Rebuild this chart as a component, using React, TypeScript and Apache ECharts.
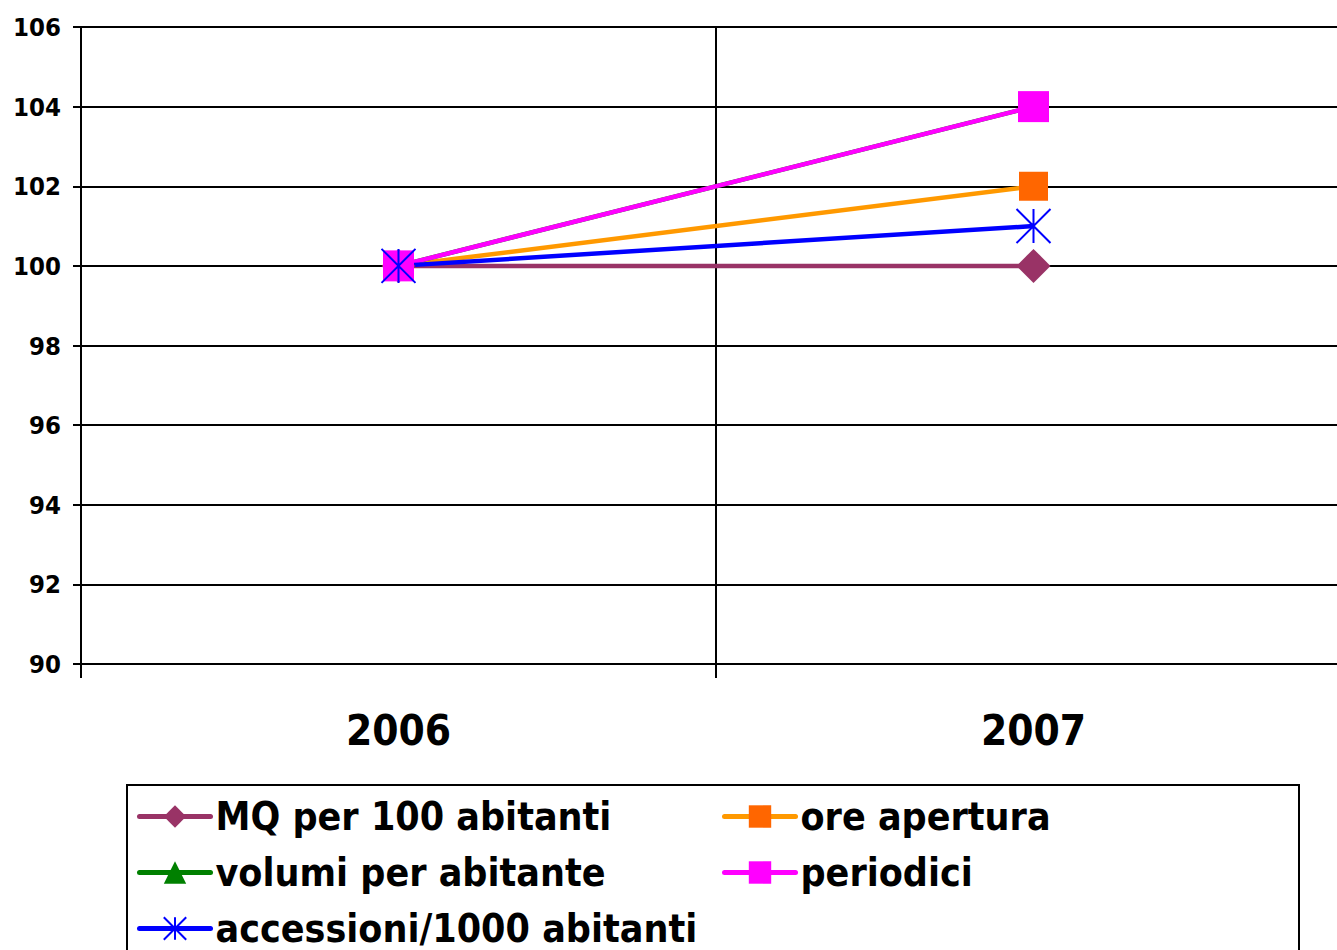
import React, { useEffect, useRef } from "react";
import * as echarts from "echarts";

const categories = ["2006", "2007"];
const yTicks = { min: 90, max: 106, interval: 2 };

const seriesNames = [
  "MQ per 100 abitanti",
  "ore apertura",
  "volumi per abitante",
  "periodici",
  "accessioni/1000 abitanti",
];
const mqValues = [100, 100];
const oreValues = [100, 102];
const volumiValues = [100, 104];
const periodiciValues = [100, 104];
const accessioniValues = [100, 101];

const legendLeftCol = ["MQ per 100 abitanti", "volumi per abitante", "accessioni/1000 abitanti"];
const legendRightCol = ["ore apertura", "periodici"];

const FONT = "'DejaVu Sans Condensed', 'DejaVu Sans', sans-serif";
const ASTERISK = "path://M0,0L20,20M20,0L0,20M10,0L10,20";

export default function App() {
  const ref = useRef<HTMLDivElement>(null);
  useEffect(() => {
    if (!ref.current) return;
    const chart = echarts.init(ref.current, undefined, { renderer: "svg" });
    const mkSeries = (
      name: string,
      data: number[],
      lineColor: string,
      markColor: string,
      symbol: string,
      size: number,
      extraItem: any = {}
    ) => ({
      name,
      type: "line",
      data,
      symbol,
      symbolSize: size,
      showAllSymbol: true,
      silent: true,
      lineStyle: { color: lineColor, width: 4.5 },
      itemStyle: { color: markColor, opacity: 1, ...extraItem },
      emphasis: { disabled: true },
    });
    const legendCommon = {
      orient: "vertical",
      padding: 0,
      itemWidth: 71,
      itemHeight: 28,
      itemGap: 17,
      selectedMode: false,
      lineStyle: { width: 5, cap: "round" },
      textStyle: {
        fontFamily: FONT,
        fontWeight: "bold",
        fontSize: 39,
        lineHeight: 39,
        color: "#000",
      },
    };
    chart.setOption({
      animation: false,
      backgroundColor: "#fff",
      grid: { left: 81, top: 27, width: 1270, height: 637 },
      xAxis: {
        type: "category",
        data: categories,
        boundaryGap: true,
        axisLine: { show: true, lineStyle: { color: "#000", width: 2 } },
        axisTick: { show: true, length: 14, interval: 0, lineStyle: { color: "#000", width: 2 } },
        splitLine: { show: true, interval: 0, lineStyle: { color: "#000", width: 2 } },
        axisLabel: {
          margin: 45,
          fontFamily: FONT,
          fontWeight: "bold",
          fontSize: 42,
          color: "#000",
        },
      },
      yAxis: {
        type: "value",
        min: yTicks.min,
        max: yTicks.max,
        interval: yTicks.interval,
        axisLine: { show: true, lineStyle: { color: "#000", width: 2 } },
        axisTick: { show: true, length: 8, lineStyle: { color: "#000", width: 2 } },
        splitLine: { show: true, lineStyle: { color: "#000", width: 2 } },
        axisLabel: {
          margin: 20,
          fontFamily: FONT,
          fontWeight: "bold",
          fontSize: 25.5,
          color: "#000",
        },
      },
      legend: [
        { ...legendCommon, data: legendLeftCol, left: 137, top: 797 },
        { ...legendCommon, data: legendRightCol, left: 722, top: 797 },
      ],
      graphic: [
        {
          type: "rect",
          shape: { x: 127, y: 785, width: 1172, height: 200 },
          style: { fill: "none", stroke: "#000", lineWidth: 2 },
          silent: true,
        },
      ],
      series: [
        mkSeries(seriesNames[0], mqValues, "#993366", "#993366", "diamond", 34),
        mkSeries(seriesNames[1], oreValues, "#FF9900", "#FF6600", "rect", 29),
        mkSeries(seriesNames[2], volumiValues, "#008000", "#008000", "triangle", 30),
        mkSeries(seriesNames[3], periodiciValues, "#FF00FF", "#FF00FF", "rect", 31),
        mkSeries(seriesNames[4], accessioniValues, "#0000FF", "#0000FF", ASTERISK, 34, {
          borderColor: "#0000FF",
          borderWidth: 2,
        }),
      ],
    });
    return () => chart.dispose();
  }, []);
  return (
    <div
      style={{ position: "absolute", left: 0, top: 0, width: 1337, height: 950, overflow: "hidden" }}
    >
      <div ref={ref} style={{ width: 1370, height: 950 }} />
    </div>
  );
}
